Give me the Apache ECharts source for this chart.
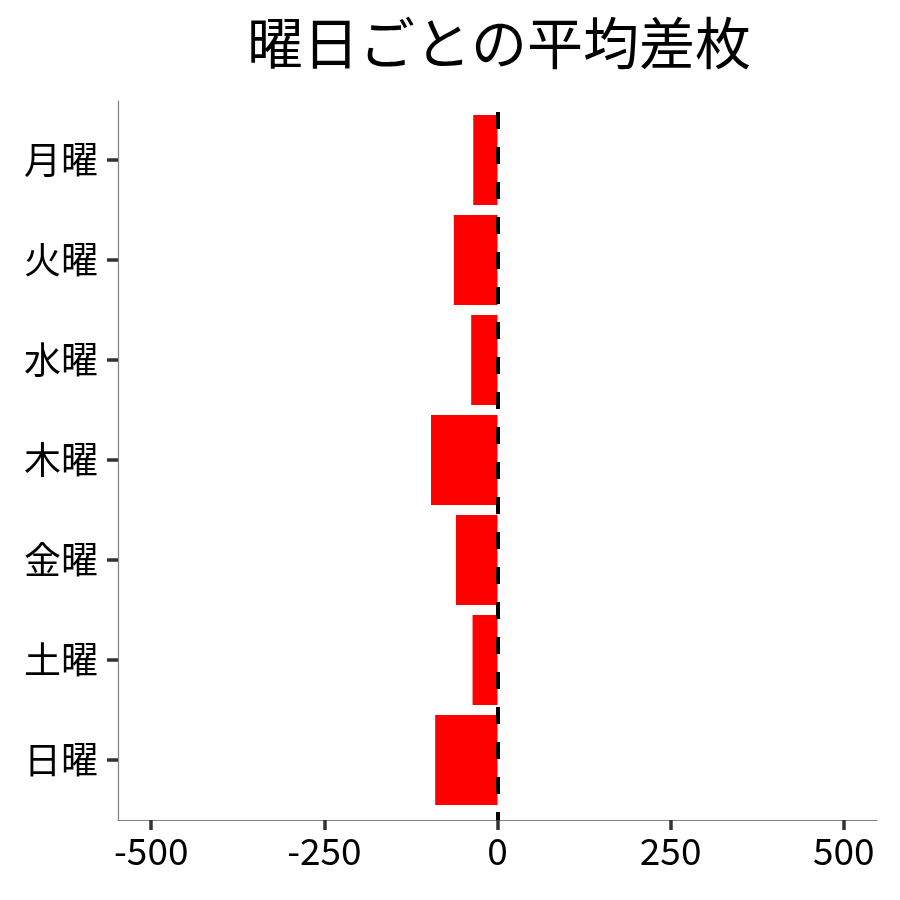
<!DOCTYPE html>
<html>
<head>
<meta charset="utf-8">
<script src="https://cdn.jsdelivr.net/npm/echarts@6/dist/echarts.min.js"></script>
<style>
html,body{margin:0;padding:0;background:#fff;}
#chart{width:900px;height:900px;}
</style>
</head>
<body>
<div id="chart"></div>
<script>
const titleText = '曜日ごとの平均差枚';
const categories = ['月曜', '火曜', '水曜', '木曜', '金曜', '土曜', '日曜'];
const avgDiff = [-35, -63, -38, -96, -60, -36, -90];
const xTicks = [-500, -250, 0, 250, 500];
const xMin = -548, xMax = 548;
const refLine = 0;

const FONT = '"Noto Sans CJK JP", "Noto Sans", sans-serif';
const chart = echarts.init(document.getElementById('chart'));
chart.setOption({
  backgroundColor: '#ffffff',
  animation: false,
  title: {
    text: titleText,
    left: 494, top: 10, textAlign: 'center',
    textStyle: { fontFamily: FONT, fontSize: 56, fontWeight: 'normal', color: '#000' }
  },
  grid: [
    { left: 118, right: 23, top: 101, bottom: 80 },
    { left: 118, right: 23, top: 110, bottom: 90 }
  ],
  xAxis: [
    {
      gridIndex: 0, type: 'value', min: xMin, max: xMax,
      axisLine: { show: true, onZero: false, lineStyle: { color: '#808080', width: 1.2 } },
      axisTick: { show: true, customValues: xTicks, length: 10, lineStyle: { color: '#333', width: 3.5 } },
      axisLabel: { customValues: xTicks, fontFamily: FONT, fontSize: 37, color: '#000', margin: 12 },
      splitLine: { show: false }
    },
    {
      gridIndex: 1, type: 'value', min: xMin, max: xMax, show: false,
      splitLine: { show: false }
    }
  ],
  yAxis: [
    {
      gridIndex: 0, type: 'value', min: 0, max: 1,
      axisLine: { show: true, onZero: false, lineStyle: { color: '#808080', width: 1.2 } },
      axisTick: { show: false }, axisLabel: { show: false }, splitLine: { show: false }
    },
    {
      gridIndex: 1, type: 'category', data: categories, inverse: true,
      axisLine: { show: true, onZero: false, lineStyle: { color: 'rgba(0,0,0,0)' } },
      axisTick: { show: true, alignWithLabel: true, length: 11, lineStyle: { color: '#333', width: 3.5 } },
      axisLabel: { fontFamily: FONT, fontSize: 37, color: '#000', margin: 20 },
      splitLine: { show: false }
    }
  ],
  series: [
    {
      type: 'bar', xAxisIndex: 1, yAxisIndex: 1,
      data: avgDiff, barWidth: '90%',
      itemStyle: { color: '#ff0000' },
      z: 2
    },
    {
      type: 'line', xAxisIndex: 0, yAxisIndex: 0,
      data: [[refLine, 0]], showSymbol: false, symbol: 'none',
      lineStyle: { opacity: 0 },
      z: 5,
      markLine: {
        silent: true, symbol: ['none', 'none'], label: { show: false },
        lineStyle: { color: '#000', width: 4, type: [17, 18], dashOffset: 9 },
        data: [{ xAxis: refLine }]
      }
    }
  ]
});
</script>
</body>
</html>
